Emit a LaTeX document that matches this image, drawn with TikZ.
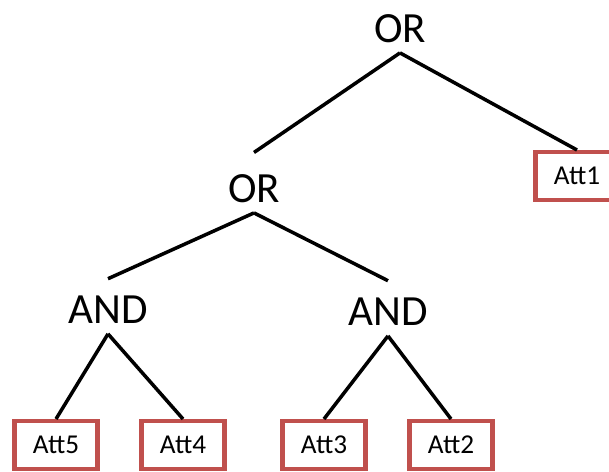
\documentclass[tikz,border=0pt]{standalone}
\usepackage{fontspec}
\setmainfont{Carlito}
\usepackage{tikz}
\definecolor{attred}{HTML}{C0504D}

\begin{document}
\begin{tikzpicture}[x=0.02cm,y=-0.02cm]

\tikzset{gate/.style={font=\fontsize{24.5}{28}\selectfont, anchor=base, inner xsep=0pt, inner ysep=6pt, text height=19pt, text depth=0pt},
         att/.style={draw=attred, line width=2.3pt, font=\fontsize{15.5}{18}\selectfont, minimum width=1.66cm, minimum height=0.96cm, inner sep=0pt},
         branch/.style={line width=2pt}}

\useasboundingbox (0,0) rectangle (609,471);

\node[gate] (orTop) at (400,42) {OR};
\node[gate, text height=22pt] (orMid) at (254,202) {OR};
\node[gate] (andLeft) at (108,323) {AND};
\node[gate] (andRight) at (388,325) {AND};

\node[att] (att1) at (577,176) {Att1};
\node[att] (att5) at (56,445) {Att5};
\node[att] (att4) at (183,445) {Att4};
\node[att] (att3) at (324,445) {Att3};
\node[att] (att2) at (451,445) {Att2};

\draw[branch] (orTop.south) -- (orMid.north);
\draw[branch] (orTop.south) -- (att1.north);
\draw[branch] (orMid.south) -- (andLeft.north);
\draw[branch] (orMid.south) -- (andRight.north);
\draw[branch] (andLeft.south) -- (att5.north);
\draw[branch] (andLeft.south) -- (att4.north);
\draw[branch] (andRight.south) -- (att3.north);
\draw[branch] (andRight.south) -- (att2.north);

\end{tikzpicture}
\end{document}
